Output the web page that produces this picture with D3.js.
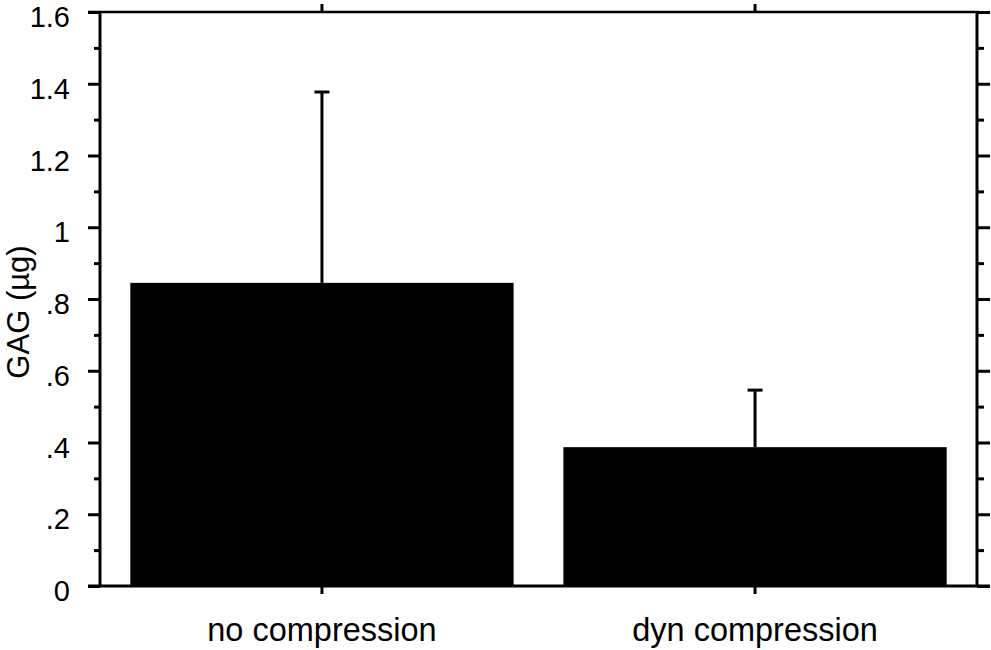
<!DOCTYPE html>
<html>
<head>
<meta charset="utf-8">
<script src="https://cdn.jsdelivr.net/npm/d3@7"></script>
<style>
    body { margin: 0; background: #fff; }
    text { font-family: "Liberation Sans", Arial, sans-serif; fill: #000; }
</style>
</head>
<body>
<svg id="chart"></svg>
<script>
// data
const categories = ["no compression", "dyn compression"];
const means = [0.845, 0.387];
const errors = [0.532, 0.159];
const yTicks = [0, 0.2, 0.4, 0.6, 0.8, 1, 1.2, 1.4, 1.6];
const yTickLabels = ["0", ".2", ".4", ".6", ".8", "1", "1.2", "1.4", "1.6"];
const yMinorTicks = [0.1, 0.3, 0.5, 0.7, 0.9, 1.1, 1.3, 1.5];

const config = {
    width: 991,
    height: 650,
    margin: { top: 12, right: 14, bottom: 64, left: 100 }
};

const svg = d3.select("#chart")
    .attr("width", config.width)
    .attr("height", config.height);

const innerW = config.width - config.margin.left - config.margin.right;
const innerH = config.height - config.margin.top - config.margin.bottom;

const g = svg.append("g")
    .attr("transform", `translate(${config.margin.left},${config.margin.top})`);

const x = d3.scaleBand()
    .domain(categories)
    .range([0, innerW])
    .paddingInner(0.115)
    .paddingOuter(0.07);

const y = d3.scaleLinear()
    .domain([0, 1.6])
    .range([innerH, 0]);

const rows = categories.map((c, i) => ({ cat: c, mean: means[i], err: errors[i] }));

// bars
g.selectAll(".bar")
    .data(rows)
    .join("rect")
    .attr("class", "bar")
    .attr("x", d => x(d.cat))
    .attr("width", x.bandwidth())
    .attr("y", d => y(d.mean))
    .attr("height", d => y(0) - y(d.mean))
    .attr("fill", "#000");

// upper error bars
const capW = 15;
g.selectAll(".err")
    .data(rows)
    .join("line")
    .attr("class", "err")
    .attr("x1", d => x(d.cat) + x.bandwidth() / 2)
    .attr("x2", d => x(d.cat) + x.bandwidth() / 2)
    .attr("y1", d => y(d.mean))
    .attr("y2", d => y(d.mean + d.err))
    .attr("stroke", "#000")
    .attr("stroke-width", 3);

g.selectAll(".cap")
    .data(rows)
    .join("line")
    .attr("class", "cap")
    .attr("x1", d => x(d.cat) + x.bandwidth() / 2 - capW / 2)
    .attr("x2", d => x(d.cat) + x.bandwidth() / 2 + capW / 2)
    .attr("y1", d => y(d.mean + d.err))
    .attr("y2", d => y(d.mean + d.err))
    .attr("stroke", "#000")
    .attr("stroke-width", 3);

// axes
function styleAxis(sel, width) {
    sel.select(".domain").remove();
    sel.selectAll(".tick line").attr("stroke", "#000").attr("stroke-width", width);
}

const yLeft = g.append("g")
    .call(d3.axisLeft(y).tickValues(yTicks).tickSize(12).tickPadding(18)
        .tickFormat((d, i) => yTickLabels[i]));
styleAxis(yLeft, 3);
yLeft.selectAll("text").attr("font-size", 29).attr("dy", "0.5em");

g.append("g")
    .call(d3.axisLeft(y).tickValues(yMinorTicks).tickSize(6).tickFormat(""))
    .call(s => styleAxis(s, 3));

g.append("g")
    .attr("transform", `translate(${innerW},0)`)
    .call(d3.axisRight(y).tickValues(yTicks).tickSize(13).tickFormat(""))
    .call(s => styleAxis(s, 3));

g.append("g")
    .attr("transform", `translate(${innerW},0)`)
    .call(d3.axisRight(y).tickValues(yMinorTicks).tickSize(7).tickFormat(""))
    .call(s => styleAxis(s, 3));

const xBottom = g.append("g")
    .attr("transform", `translate(0,${innerH})`)
    .call(d3.axisBottom(x).tickSize(8).tickPadding(24));
styleAxis(xBottom, 3);
xBottom.selectAll("text").attr("font-size", 32.5);

g.append("g")
    .call(d3.axisTop(x).tickSize(8).tickFormat(""))
    .call(s => styleAxis(s, 3));

// frame
g.append("line").attr("x1", 0).attr("x2", 0).attr("y1", 0).attr("y2", innerH)
    .attr("stroke", "#000").attr("stroke-width", 3);
g.append("line").attr("x1", innerW).attr("x2", innerW).attr("y1", 0).attr("y2", innerH)
    .attr("stroke", "#000").attr("stroke-width", 3);
g.append("line").attr("x1", -12).attr("x2", innerW + 2).attr("y1", 0).attr("y2", 0)
    .attr("stroke", "#000").attr("stroke-width", 2.5);
g.append("line").attr("x1", -12).attr("x2", innerW + 13).attr("y1", innerH).attr("y2", innerH)
    .attr("stroke", "#000").attr("stroke-width", 3);

// y title
g.append("text")
    .attr("transform", `translate(${-71},${innerH / 2 + 13}) rotate(-90)`)
    .attr("text-anchor", "middle")
    .attr("font-size", 31)
    .text("GAG (µg)");
</script>
</body>
</html>
